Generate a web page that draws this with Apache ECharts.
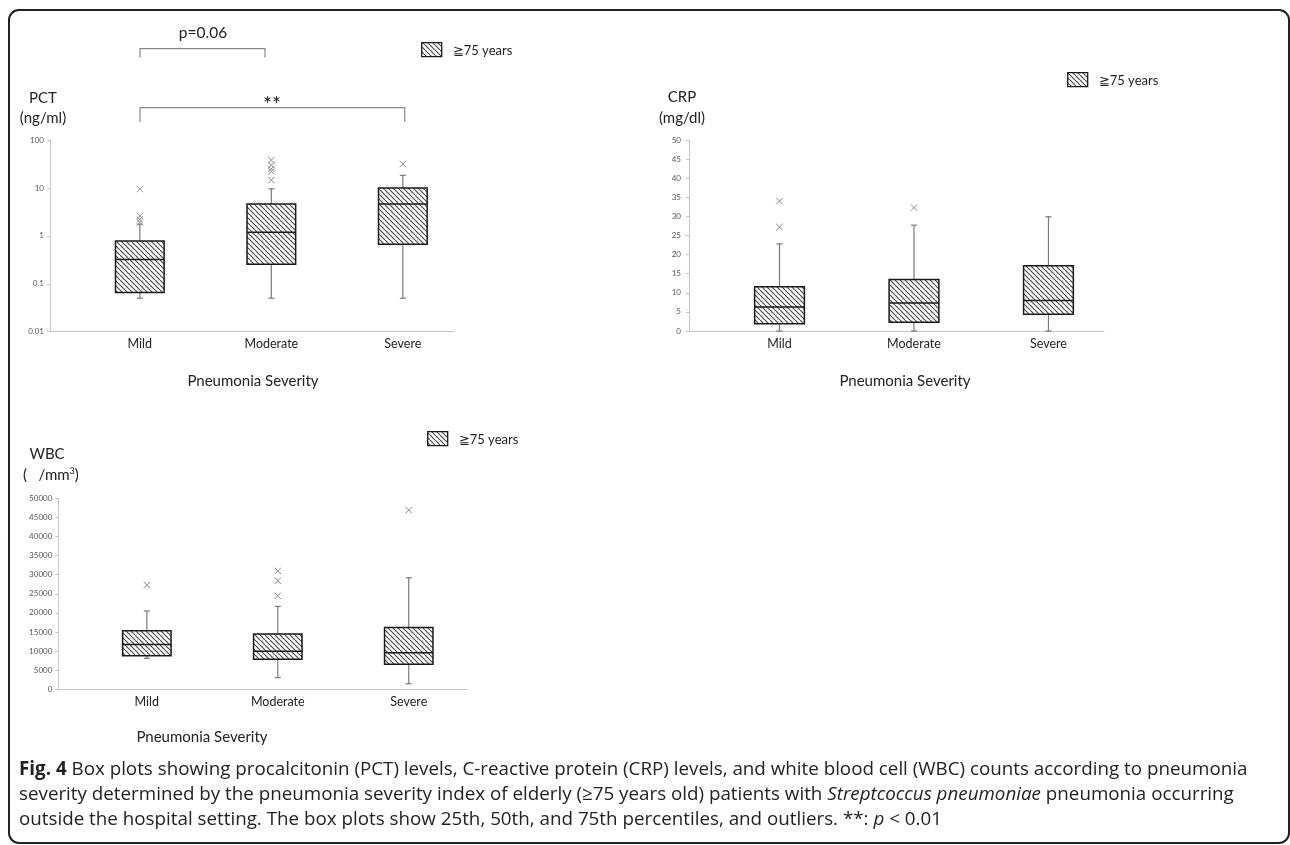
<!DOCTYPE html>
<html>
<head>
<meta charset="utf-8">
<script src="https://cdn.jsdelivr.net/npm/echarts@6/dist/echarts.min.js"></script>
<style>html,body{margin:0;padding:0;background:#fff}#c{width:1290px;height:845px}</style>
</head>
<body>
<div id="c"></div>
<script>
// ---------- data ----------
const categories = ['Mild', 'Moderate', 'Severe'];
// [low whisker, Q1, median, Q3, high whisker]
const pctBox = [[0.05, 0.066, 0.32, 0.78, 1.75], [0.05, 0.255, 1.19, 4.6, 9.6], [0.05, 0.67, 4.6, 10, 18.3]];
const pctOutliers = [[9.5, 2.6, 2.2, 1.9], [38, 30, 25, 22, 14.5], [31.6]];
const crpBox = [[0, 1.9, 6.3, 11.6, 22.8], [0, 2.3, 7.3, 13.5, 27.7], [0, 4.4, 8.0, 17.1, 29.9]];
const crpOutliers = [[34, 27.2], [32.3], []];
const wbcBox = [[8100, 8800, 11700, 15300, 20500], [3050, 7850, 9950, 14500, 21700], [1450, 6550, 9600, 16200, 29200]];
const wbcOutliers = [[27300], [31000, 28400, 24500], [46900]];
const pctTicks = [0.01, 0.1, 1, 10, 100];
const legendLabel = '≧75 years';
const xTitle = 'Pneumonia Severity';

// ---------- helpers ----------
const tile = document.createElement('canvas');
tile.width = 5; tile.height = 5;
(function () {
  const ctx = tile.getContext('2d');
  ctx.fillStyle = '#fff'; ctx.fillRect(0, 0, 5, 5);
  ctx.strokeStyle = '#4a4a4a'; ctx.lineWidth = 1.2;
  for (const o of [-5, 0, 5]) { ctx.beginPath(); ctx.moveTo(o, 0); ctx.lineTo(o + 5, 5); ctx.stroke(); }
})();
const hatch = { image: tile, repeat: 'repeat' };

const BOX_W = 0.37;
const boxData = arr => arr.map((d, i) => [i + 1].concat(d));
const outData = arr => arr.flatMap((list, i) => list.map(v => [i + 1, v]));

function renderBox(params, api) {
  const x = api.value(0);
  const vals = [1, 2, 3, 4, 5].map(k => api.value(k));
  const p = vals.map(v => api.coord([x, v]));
  const left = api.coord([x - BOX_W / 2, vals[2]])[0];
  const right = api.coord([x + BOX_W / 2, vals[2]])[0];
  const cx = p[0][0];
  const cap = 3;
  const wStyle = { stroke: '#7a7a7a', lineWidth: 1.2 };
  return {
    type: 'group',
    children: [
      { type: 'line', shape: { x1: cx, y1: p[0][1], x2: cx, y2: p[1][1] }, style: wStyle },
      { type: 'line', shape: { x1: cx, y1: p[3][1], x2: cx, y2: p[4][1] }, style: wStyle },
      { type: 'line', shape: { x1: cx - cap, y1: p[0][1], x2: cx + cap, y2: p[0][1] }, style: wStyle },
      { type: 'line', shape: { x1: cx - cap, y1: p[4][1], x2: cx + cap, y2: p[4][1] }, style: wStyle },
      { type: 'rect', shape: { x: left, y: p[3][1], width: right - left, height: p[1][1] - p[3][1] },
        style: { fill: hatch, stroke: '#1a1a1a', lineWidth: 1.5 } },
      { type: 'line', shape: { x1: left, y1: p[2][1], x2: right, y2: p[2][1] }, style: { stroke: '#1a1a1a', lineWidth: 1.5 } }
    ]
  };
}
function renderOut(params, api) {
  const c = api.coord([api.value(0), api.value(1)]);
  const s = 3.2;
  const st = { stroke: '#8a8a8a', lineWidth: 1 };
  return { type: 'group', children: [
    { type: 'line', shape: { x1: c[0] - s, y1: c[1] - s, x2: c[0] + s, y2: c[1] + s }, style: st },
    { type: 'line', shape: { x1: c[0] - s, y1: c[1] + s, x2: c[0] + s, y2: c[1] - s }, style: st }
  ]};
}

const FONT = 'Lato, "Open Sans", sans-serif';
const axisLineStyle = { lineStyle: { color: '#c4c4c4', width: 1 } };
function xAxis(gi, min, max) {
  return {
    type: 'value', gridIndex: gi, min: min, max: max,
    axisLine: Object.assign({ show: true, onZero: false }, axisLineStyle),
    axisTick: { show: false }, splitLine: { show: false },
    axisLabel: { customValues: [1, 2, 3], formatter: v => categories[Math.round(v) - 1] || '',
      fontFamily: FONT, fontSize: 12.5, color: '#222', margin: 6 }
  };
}
function yLabel(margin) {
  return { fontFamily: FONT, fontSize: 8, color: '#555', margin: margin, formatter: v => String(v) };
}

const option = {
  backgroundColor: '#fff',
  animation: false,
  grid: [
    { left: 50, top: 140, width: 404, height: 191.7 },
    { left: 689, top: 140, width: 415, height: 191 },
    { left: 58.3, top: 498.3, width: 409.4, height: 191 }
  ],
  xAxis: [xAxis(0, 0.317, 3.389), xAxis(1, 0.327, 3.413), xAxis(2, 0.324, 3.45)],
  yAxis: [
    { type: 'log', logBase: 10, gridIndex: 0, min: 0.01, max: 100,
      axisLine: Object.assign({ show: true }, axisLineStyle),
      axisTick: { show: true, length: 3, lineStyle: { color: '#c4c4c4' } },
      splitLine: { show: false }, minorTick: { show: false },
      axisLabel: Object.assign(yLabel(6), { customValues: pctTicks, formatter: v => String(+(+v).toPrecision(2)) }) },
    { type: 'value', gridIndex: 1, min: 0, max: 50, interval: 5,
      axisLine: Object.assign({ show: true }, axisLineStyle),
      axisTick: { show: true, length: 3, lineStyle: { color: '#c4c4c4' } },
      splitLine: { show: false }, axisLabel: yLabel(8) },
    { type: 'value', gridIndex: 2, min: 0, max: 50000, interval: 5000,
      axisLine: Object.assign({ show: true }, axisLineStyle),
      axisTick: { show: true, length: 3, lineStyle: { color: '#c4c4c4' } },
      splitLine: { show: false }, axisLabel: yLabel(6) }
  ],
  series: [
    { type: 'custom', xAxisIndex: 0, yAxisIndex: 0, renderItem: renderBox, data: boxData(pctBox), encode: { x: 0, y: [1, 2, 3, 4, 5] }, clip: false },
    { type: 'custom', xAxisIndex: 0, yAxisIndex: 0, renderItem: renderOut, data: outData(pctOutliers), encode: { x: 0, y: 1 }, clip: false },
    { type: 'custom', xAxisIndex: 1, yAxisIndex: 1, renderItem: renderBox, data: boxData(crpBox), encode: { x: 0, y: [1, 2, 3, 4, 5] }, clip: false },
    { type: 'custom', xAxisIndex: 1, yAxisIndex: 1, renderItem: renderOut, data: outData(crpOutliers), encode: { x: 0, y: 1 }, clip: false },
    { type: 'custom', xAxisIndex: 2, yAxisIndex: 2, renderItem: renderBox, data: boxData(wbcBox), encode: { x: 0, y: [1, 2, 3, 4, 5] }, clip: false },
    { type: 'custom', xAxisIndex: 2, yAxisIndex: 2, renderItem: renderOut, data: outData(wbcOutliers), encode: { x: 0, y: 1 }, clip: false }
  ],
  graphic: []
};

function txt(x, y, text, size, extra) {
  return { type: 'text', x: x, y: y, silent: true,
    style: Object.assign({ text: text, font: size + 'px ' + FONT, fill: '#222', align: 'center', verticalAlign: 'middle' }, extra || {}) };
}
function legend(x, y) {
  return [
    { type: 'rect', shape: { x: x, y: y, width: 20, height: 14 }, style: { fill: hatch, stroke: '#1a1a1a', lineWidth: 1.3 } },
    txt(x + 31, y + 8, legendLabel, 13, { align: 'left' })
  ];
}
const g = [];
// frame
g.push({ type: 'rect', shape: { x: 9, y: 10, width: 1280, height: 833, r: 10 }, style: { fill: 'none', stroke: '#222', lineWidth: 2 } });
// PCT panel annotations
g.push(txt(43, 98, 'PCT', 15), txt(43, 118, '(ng/ml)', 15));
g.push({ type: 'polyline', shape: { points: [[140, 57.5], [140, 48.7], [265, 48.7], [265, 57.5]] }, style: { fill: 'none', stroke: '#8a8a8a', lineWidth: 1.2 } });
g.push(txt(203, 33, 'p=0.06', 15.5));
g.push({ type: 'polyline', shape: { points: [[140, 122], [140, 107.7], [404.7, 107.7], [404.7, 122]] }, style: { fill: 'none', stroke: '#8a8a8a', lineWidth: 1.2 } });
g.push(txt(272, 105, '**', 21));
g.push(...legend(421.7, 42.7));
g.push(txt(253, 381, xTitle, 15));
// CRP
g.push(txt(682, 97, 'CRP', 15), txt(682, 118, '(mg/dl)', 15));
g.push(...legend(1067.7, 72.7));
g.push(txt(905, 381, xTitle, 15));
// WBC
g.push(txt(47, 454, 'WBC', 15));
g.push(txt(23, 475, '(   /mm{s|3})', 15, { align: 'left', rich: { s: { fontSize: 9, verticalAlign: 'top', fontFamily: 'Lato', padding: [0, 0, 8, 0] } } }));
g.push(...legend(427.7, 431.7));
g.push(txt(202, 737, xTitle, 15));
// caption
const CAP = '"Open Sans", sans-serif';
const CAPS = 18.8;
const capRich = { b: { fontWeight: 'bold', fontSize: CAPS, fontFamily: CAP, fill: '#222' }, i: { fontStyle: 'italic', fontSize: CAPS, fontFamily: CAP, fill: '#222' } };
const capLines = [
  '{b|Fig. 4} Box plots showing procalcitonin (PCT) levels, C-reactive protein (CRP) levels, and white blood cell (WBC) counts according to pneumonia',
  'severity determined by the pneumonia severity index of elderly (≥75 years old) patients with {i|Streptcoccus pneumoniae} pneumonia occurring',
  'outside the hospital setting. The box plots show 25th, 50th, and 75th percentiles, and outliers. **: {i|p} < 0.01'
];
capLines.forEach((t, k) => g.push({ type: 'text', x: 19, y: 770 + 25 * k, silent: true,
  style: { text: t, font: CAPS + 'px ' + CAP, fill: '#222', align: 'left', verticalAlign: 'middle', rich: capRich } }));
option.graphic = g;

const chart = echarts.init(document.getElementById('c'), null, { renderer: 'canvas' });
chart.setOption(option);
</script>
</body>
</html>
